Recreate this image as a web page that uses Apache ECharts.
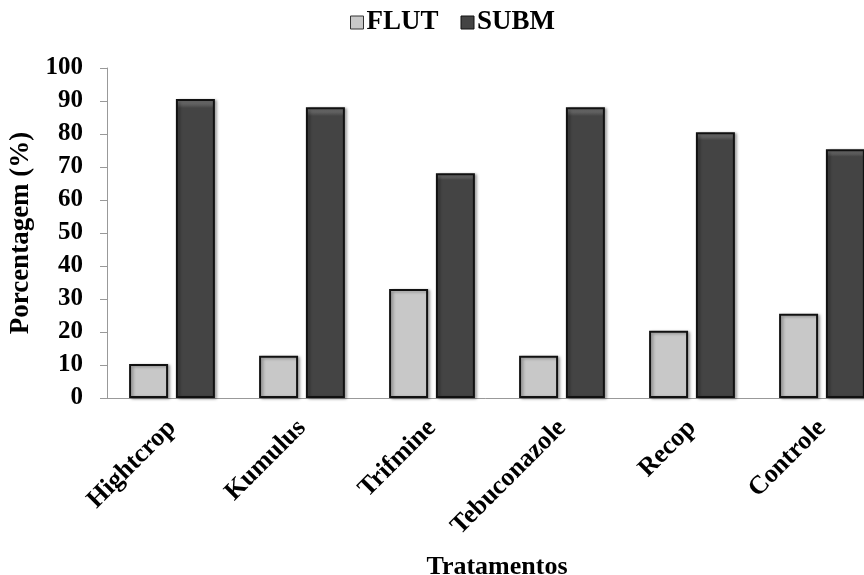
<!DOCTYPE html>
<html>
<head>
<meta charset="utf-8">
<script src="https://cdn.jsdelivr.net/npm/echarts@6/dist/echarts.min.js"></script>
<style>
  html, body { margin: 0; padding: 0; background: #fff; }
  #chart { width: 864px; height: 575px; }
</style>
</head>
<body>
<div id="chart"></div>
<script>
// Treatments on the category axis
const categories = ['Hightcrop', 'Kumulus', 'Trifmine', 'Tebuconazole', 'Recop', 'Controle'];
// Percentage of floating (FLUT) and submerged (SUBM) per treatment
const flut = [10.3, 12.8, 33.0, 12.8, 20.4, 25.5];
const subm = [90.6, 88.1, 68.1, 88.1, 80.5, 75.4];
const yTicks = [0, 10, 20, 30, 40, 50, 60, 70, 80, 90, 100];

const serif = '"Liberation Serif", "Times New Roman", serif';

const chart = echarts.init(document.getElementById('chart'));

function barStyle(fill, top) {
  return {
    color: new echarts.graphic.LinearGradient(0, 0, 0, 1, [
      { offset: 0, color: top },
      { offset: 0.03, color: fill },
      { offset: 1, color: fill }
    ]),
    borderColor: '#111',
    borderWidth: 2,
    shadowColor: 'rgba(0,0,0,0.35)',
    shadowBlur: 3,
    shadowOffsetX: 2,
    shadowOffsetY: 1
  };
}

chart.setOption({
  animation: false,
  textStyle: { fontFamily: serif },
  legend: {
    top: 4,
    left: 345,
    icon: 'rect',
    itemWidth: 13,
    itemHeight: 13,
    itemGap: 22,
    textStyle: { fontFamily: serif, fontWeight: 'bold', fontSize: 27, color: '#000', padding: [0, 0, 0, -2] },
    data: [
      { name: 'FLUT', itemStyle: { color: '#c8c8c8', borderColor: '#333', borderWidth: 1 } },
      { name: 'SUBM', itemStyle: { color: '#444', borderColor: '#111', borderWidth: 1 } }
    ]
  },
  // the plot runs past the right edge of the canvas, cutting the last bar
  grid: { left: 107, width: 780, top: 68, height: 330, containLabel: false, outerBoundsMode: 'none' },
  xAxis: {
    type: 'category',
    data: categories,
    name: 'Tratamentos',
    nameLocation: 'middle',
    nameGap: 156,
    nameTextStyle: { fontFamily: serif, fontWeight: 'bold', fontSize: 26, color: '#000' },
    axisLine: { lineStyle: { color: '#999', width: 1 } },
    axisTick: { show: false },
    axisLabel: {
      rotate: 45,
      margin: 26,
      fontFamily: serif,
      fontWeight: 'bold',
      fontSize: 26,
      color: '#000'
    }
  },
  yAxis: {
    type: 'value',
    min: 0,
    max: 100,
    interval: 10,
    name: 'Porcentagem (%)',
    nameLocation: 'middle',
    nameGap: 68,
    nameTextStyle: { fontFamily: serif, fontWeight: 'bold', fontSize: 27, color: '#000' },
    axisLine: { show: true, lineStyle: { color: '#999', width: 1 } },
    axisTick: { show: true, length: 7, lineStyle: { color: '#999' } },
    splitLine: { show: false },
    axisLabel: {
      margin: 24,
      fontFamily: serif,
      fontWeight: 'bold',
      fontSize: 25,
      color: '#000',
      formatter: v => (yTicks.includes(v) ? String(v) : '')
    }
  },
  series: [
    {
      name: 'FLUT',
      type: 'bar',
      data: flut,
      barGap: '20%',
      barCategoryGap: '34%',
      itemStyle: barStyle('#c8c8c8', '#f4f4f4')
    },
    {
      name: 'SUBM',
      type: 'bar',
      data: subm,
      itemStyle: barStyle('#444', '#888')
    }
  ]
});
</script>
</body>
</html>
